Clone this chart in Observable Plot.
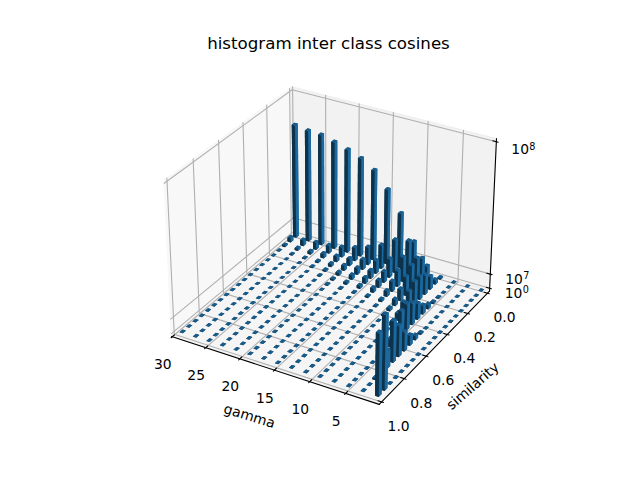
<!DOCTYPE html>
<html><head><meta charset="utf-8">
<style>html,body{margin:0;padding:0;background:#fff;overflow:hidden}</style>
<script src="https://cdn.jsdelivr.net/npm/d3@7"></script>
<script src="https://cdn.jsdelivr.net/npm/@observablehq/plot@0.6"></script>
</head><body><div id="chart"></div>
<script>
const chartTitle = "histogram inter class cosines";
const gammaValues = [28.9,26.9,24.9,22.9,20.9,18.9,16.9,14.9,12.9,10.9,8.9,6.9,4.9,2.9,.9];
const similarityValues = [0,.051,.102,.153,.204,.255,.306,.357,.408,.459,.51,.561,.612,.663,.714,.765,.816,.867,.918,.969];
// counts in millions, one array per gamma, one entry per similarity bin
const g29=[79.5,3,1,.3,0,0,0,0,0,0,0,0,0,0,0,0,0,0,0,0];
const g27=[78,4,1.5,.5,0,0,0,0,0,0,0,0,0,0,0,0,0,0,0,0];
const g25=[77.5,5,2,.5,0,0,0,0,0,0,0,0,0,0,0,0,0,0,0,0];
const g23=[75,5.5,3,1,.5,0,0,0,0,0,0,0,0,0,0,0,0,0,0,0];
const g21=[72.2,7,4,2,1,.5,0,0,0,0,0,0,0,0,0,0,0,0,0,0];
const g19=[68.7,9.4,5,3.5,2,1,.5,0,0,0,0,0,0,0,0,0,0,0,0,0];
const g17=[63,12.5,7,4.5,3,1.5,.5,0,0,0,0,0,0,0,0,0,0,0,0,0];
const g15=[52.2,16.6,9,5.5,4,2,.5,0,0,0,0,0,0,0,0,0,0,0,0,0];
const g13=[38.2,23,13,7.5,5,3,1,0,0,0,0,0,0,0,0,0,0,0,0,0];
const g11=[21,25,17,11,7,4,1.5,.5,0,0,0,0,0,0,0,0,0,0,0,0];
const g9=[6.5,15.5,19,17.5,13,8,4.5,2,1,0,0,0,0,0,0,0,0,0,0,0];
const g7=[1,3,9,13.5,16,16,13,9,5,2.5,1,0,0,0,0,0,0,0,0,0];
const g5=[0,0,0,.5,1,3,6,11,15,18,17,11,5,2,0,0,0,0,0,0];
const g3=[0,0,0,0,0,0,0,0,0,1,3,7,13,21,28,12,6,1,0,0];
const g1=[0,0,0,0,0,0,0,0,0,0,0,0,0,0,0,0,0,0,50,42];
const countsByGamma=[g29,g27,g25,g23,g21,g19,g17,g15,g13,g11,g9,g7,g5,g3,g1];
const xTicks=[5,10,15,20,25,30];
const yTicks=[0,.2,.4,.6,.8,1];
const zTicks=[1,1e7,1e8];
const zTickExponents=["0","7","8"];
const xLabel="gamma", yLabel="similarity";

// matplotlib-style 3D camera
const xlim=[29.5,1], ylim=[1,0], zlim=[0,1e8];
const barDx=.5, barDy=0.025;
const elev=30*Math.PI/180, azim=-60*Math.PI/180, dist=10;
const k=1.8294640721620434/Math.hypot(4,4,3);
const box=[4*k,4*k,3*k];
const sub=(a,b)=>a.map((v,i)=>v-b[i]), dot=(a,b)=>a[0]*b[0]+a[1]*b[1]+a[2]*b[2];
const cross=(a,b)=>[a[1]*b[2]-a[2]*b[1],a[2]*b[0]-a[0]*b[2],a[0]*b[1]-a[1]*b[0]];
const unit=a=>{const n=Math.hypot(...a);return a.map(v=>v/n)};
const R=box.map(v=>v/2);
const E=[R[0]+dist*Math.cos(elev)*Math.cos(azim),R[1]+dist*Math.cos(elev)*Math.sin(azim),R[2]+dist*Math.sin(elev)];
const w=unit(sub(E,R)),u=unit(cross([0,0,1],w)),v=cross(w,u);
function proj(x,y,z){
  const p=[(x-xlim[0])/(xlim[1]-xlim[0])*box[0],(y-ylim[0])/(ylim[1]-ylim[0])*box[1],(z-zlim[0])/(zlim[1]-zlim[0])*box[2]];
  const d=sub(p,E),vz=dot(w,d);
  return {px:dot(u,d)/-vz,py:dot(v,d)/-vz,depth:-vz};
}
const pad=a=>(a[1]-a[0])/48;
const X0=xlim[0]-pad(xlim),X1=xlim[1]+pad(xlim),Y0=ylim[0]-pad(ylim),Y1=ylim[1]+pad(ylim),Z0=zlim[0]-pad(zlim),Z1=zlim[1]+pad(zlim);
// default face shading of a 3D bar
const shadeOf=n=>{const s=dot(n,[-2/3,-2/3,1/3]);return .3+.7*((s+1)/2)};
const base=[31,119,180];
const shaded=n=>{const f=shadeOf(n);return `rgb(${base.map(c=>Math.round(c*f)).join(",")})`};

let id=0;
function addPoly(rows,pts,extra){id++;for(const q of pts){const r=proj(...q);rows.push({id,x:r.px,y:r.py,...extra})}}
const panes=[];
addPoly(panes,[[X0,Y0,Z0],[X0,Y1,Z0],[X0,Y1,Z1],[X0,Y0,Z1]],{c:"rgba(242,242,242,.5)"});
addPoly(panes,[[X0,Y1,Z0],[X1,Y1,Z0],[X1,Y1,Z1],[X0,Y1,Z1]],{c:"rgba(230,230,230,.5)"});
addPoly(panes,[[X0,Y0,Z0],[X1,Y0,Z0],[X1,Y1,Z0],[X0,Y1,Z0]],{c:"rgba(236,236,236,.5)"});
const grid=[];
for(const t of xTicks)addPoly(grid,[[t,Y0,Z0],[t,Y1,Z0],[t,Y1,Z1]],{});
for(const t of yTicks)addPoly(grid,[[X1,t,Z0],[X0,t,Z0],[X0,t,Z1]],{});
for(const t of zTicks)addPoly(grid,[[X0,Y0,t],[X0,Y1,t],[X1,Y1,t]],{});
const axes=[];
addPoly(axes,[[X0,Y0,Z0],[X1,Y0,Z0]],{});
addPoly(axes,[[X1,Y0,Z0],[X1,Y1,Z0]],{});
addPoly(axes,[[X1,Y1,Z0],[X1,Y1,Z1]],{});
const dY=(Y1-Y0)/12,dX=(X1-X0)/12;
for(const t of xTicks)addPoly(axes,[[t,Y0-.1*dY,Z0],[t,Y0+.2*dY,Z0]],{});
for(const t of yTicks)addPoly(axes,[[X1+.1*dX,t,Z0],[X1-.2*dX,t,Z0]],{});
for(const t of zTicks)addPoly(axes,[[X1+.1*dX,Y1,t],[X1-.2*dX,Y1,t]],{});

// bars: every face, painter-sorted on mean depth
const faces=[];
gammaValues.forEach((g,i)=>similarityValues.forEach((s,j)=>{
  const h=countsByGamma[i][j]*1e6,x0=g,x1=g+barDx,y0=s,y1=y0+barDy;
  const list=[
   [[0,0,-1],[[x0,y0,0],[x1,y0,0],[x1,y1,0],[x0,y1,0]]],
   [[0,0,1],[[x0,y0,h],[x1,y0,h],[x1,y1,h],[x0,y1,h]]],
   [[0,-1,0],[[x0,y0,0],[x1,y0,0],[x1,y0,h],[x0,y0,h]]],
   [[0,1,0],[[x0,y1,0],[x1,y1,0],[x1,y1,h],[x0,y1,h]]],
   [[-1,0,0],[[x0,y0,0],[x0,y1,0],[x0,y1,h],[x0,y0,h]]],
   [[1,0,0],[[x1,y0,0],[x1,y1,0],[x1,y1,h],[x1,y0,h]]]];
  for(const [n,pts] of list){
    faces.push({n,pts,depth:d3.mean(pts,q=>proj(...q).depth)});
  }
}));
const sorted=d3.sort(faces,(a,b)=>d3.descending(a.depth,b.depth));
const bars=[];
for(const f of sorted)addPoly(bars,f.pts,{c:shaded(f.n)});

const xl=xTicks.map(t=>{const r=proj(t,Y0,Z0);return{x:r.px,y:r.py,t:String(t)}});
const yl=yTicks.map(t=>{const r=proj(X1,t,Z0);return{x:r.px,y:r.py,t:t.toFixed(1)}});
const zl=zTicks.map((t,i)=>{const r=proj(X1,Y1,t);return{x:r.px,y:r.py,t:zTickExponents[i]}});
const xm=proj(15,Y0,Z0),ym=proj(X1,.5,Z0);
const fs=13.89;
const zNudge=[5,5,8];
const chart=Plot.plot({
  width:640,height:480,margin:0,
  style:{fontFamily:"DejaVu Sans",background:"#fff",color:"#000"},
  x:{domain:[-.095,.09],range:[143.2,512.8],axis:null},
  y:{domain:[-.095,.09],range:[427.2,57.6],axis:null},
  color:{type:"identity"},
  marks:[
    Plot.line(panes,{x:"x",y:"y",z:"id",fill:"c",stroke:"c",strokeWidth:1,curve:"linear-closed"}),
    Plot.line(grid,{x:"x",y:"y",z:"id",stroke:"#b0b0b0",strokeWidth:1.11,curve:"linear"}),
    Plot.line(axes,{x:"x",y:"y",z:"id",stroke:"#000",strokeWidth:1.11,curve:"linear"}),
    Plot.line(bars,{x:"x",y:"y",z:"id",fill:"c",stroke:"none",curve:"linear-closed"}),
    Plot.text(xl,{x:"x",y:"y",text:"t",fontSize:fs,dx:-9.5,dy:28,fill:"#000"}),
    Plot.text(yl,{x:"x",y:"y",text:"t",fontSize:fs,dx:17,dy:24.5,fill:"#000"}),
    zl.map((d,i)=>[
      Plot.text([d],{x:"x",y:"y",text:()=>"10",fontSize:fs,dx:15,dy:zNudge[i],textAnchor:"start",fill:"#000"}),
      Plot.text([d],{x:"x",y:"y",text:"t",fontSize:9.7,dx:33,dy:zNudge[i]-3,textAnchor:"start",fill:"#000"})
    ]),
    Plot.text([xLabel],{x:()=>xm.px,y:()=>xm.py,text:d=>d,fontSize:fs,dx:-25,dy:46,rotate:17,fill:"#000"}),
    Plot.text([yLabel],{x:()=>ym.px,y:()=>ym.py,text:d=>d,fontSize:fs,dx:36,dy:41,rotate:-41,fill:"#000"}),
    Plot.text([chartTitle],{frameAnchor:"top",text:d=>d,fontSize:16.67,dx:8,dy:37,fill:"#000"})
  ]
});
document.getElementById("chart").append(chart);
</script></body></html>
